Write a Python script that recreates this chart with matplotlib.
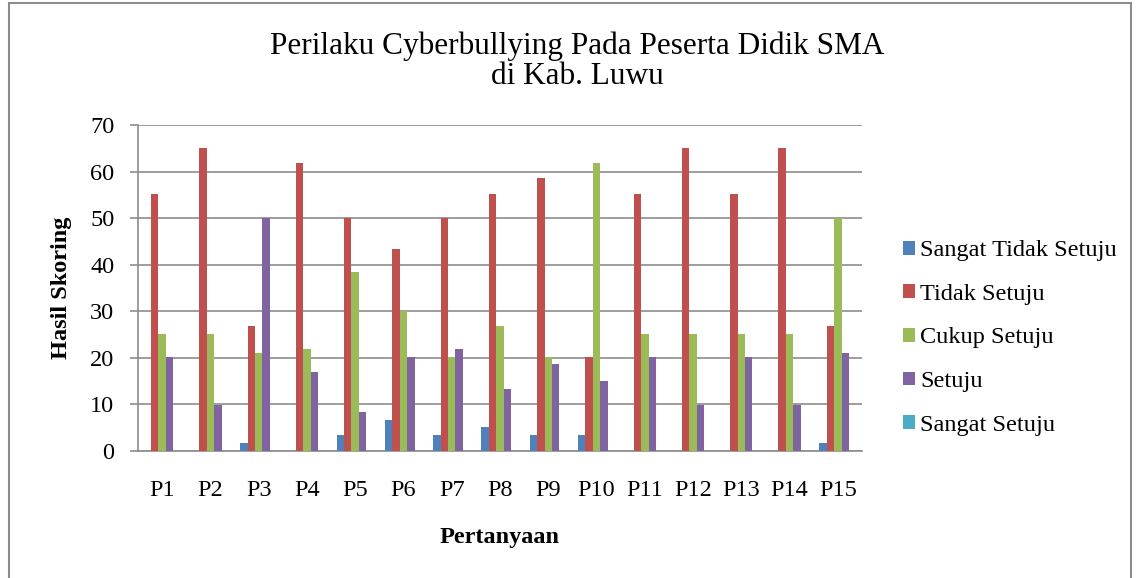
import matplotlib
matplotlib.use("Agg")
import matplotlib.pyplot as plt
import numpy as np
from matplotlib.patches import Rectangle

categories = ["P1", "P2", "P3", "P4", "P5", "P6", "P7", "P8", "P9", "P10",
              "P11", "P12", "P13", "P14", "P15"]
sangat_tidak_setuju = [0, 0, 1.7, 0, 3.4, 6.7, 3.4, 5.1, 3.4, 3.4, 0, 0, 0, 0, 1.7]
tidak_setuju = [55.2, 65.1, 26.8, 61.8, 50.0, 43.4, 50.0, 55.2, 58.6, 20.1, 55.2, 65.1, 55.2, 65.1, 26.8]
cukup_setuju = [25.1, 25.1, 21.0, 21.8, 38.4, 30.1, 20.1, 26.8, 20.1, 61.8, 25.1, 25.1, 25.1, 25.1, 50.0]
setuju = [20.1, 9.9, 50.0, 16.9, 8.3, 20.1, 21.8, 13.3, 18.6, 15.0, 20.1, 9.9, 20.1, 9.9, 21.0]
sangat_setuju = [0] * 15

series_names = ["Sangat Tidak Setuju", "Tidak Setuju", "Cukup Setuju", "Setuju", "Sangat Setuju"]
series = [sangat_tidak_setuju, tidak_setuju, cukup_setuju, setuju, sangat_setuju]
colors = ["#4F81BD", "#C0504D", "#9BBB59", "#8064A2", "#4BACC6"]

plt.rcParams['font.family'] = ['Liberation Serif', 'DejaVu Serif']

fig = plt.figure(figsize=(11.38, 5.78), dpi=100)
ax = fig.add_axes([138/1138, 1 - 451/578, (862-138)/1138, (451-125)/578])

x = np.arange(1, len(categories) + 1)
w = 1 / 6.5
for i, (name, vals, c) in enumerate(zip(series_names, series, colors)):
    ax.bar(x + (i - 2) * w, vals, width=w, color=c, label=name, zorder=3)

ax.set_xlim(0.5, 15.5)
ax.set_ylim(0, 70)
ax.set_yticks(range(0, 71, 10))
ax.set_xticks(x)
ax.set_xticklabels(categories)
ax.yaxis.grid(True, color="#8c8c8c", linewidth=1.2, zorder=0)
ax.set_axisbelow(True)
for s in ["top", "right"]:
    ax.spines[s].set_visible(False)
ax.spines["left"].set_color("#8c8c8c")
ax.spines["bottom"].set_color("#8c8c8c")
ax.spines["left"].set_linewidth(1.2)
ax.spines["bottom"].set_linewidth(1.2)
ax.tick_params(axis="y", direction="out", length=6, width=1.2, color="#8c8c8c", pad=11, labelsize=17.5)
ax.tick_params(axis="x", length=0, pad=21, labelsize=17.5)

ax.set_ylabel("Hasil Skoring", fontsize=17.5, fontweight="bold")
ax.yaxis.set_label_coords(-(138-72)/724, 0.5)
ax.set_xlabel("Pertanyaan", fontsize=17.5, fontweight="bold", va="center")
ax.xaxis.set_label_coords(0.5, -(537-451)/326)

fig.text(577/1138, 1 - 46/578, "Perilaku Cyberbullying Pada Peserta Didik SMA",
         ha="center", va="center", fontsize=22.5)
fig.text(577/1138, 1 - 77/578, "di Kab. Luwu", ha="center", va="center", fontsize=22.5)

leg = ax.legend(loc="center left", bbox_to_anchor=(903/1138, 1 - 338/578),
                bbox_transform=fig.transFigure, frameon=False, fontsize=17.5,
                handlelength=0.5, handleheight=0.5, handletextpad=0.2,
                labelspacing=0.93, borderpad=0, borderaxespad=0)

fig.patches.append(Rectangle((9/1138, -0.05), (1131-9)/1138, 1.05 - 3/578,
                             transform=fig.transFigure, fill=False,
                             edgecolor="#8c8c8c", linewidth=1.5))

fig.savefig("out.png", dpi=100)
